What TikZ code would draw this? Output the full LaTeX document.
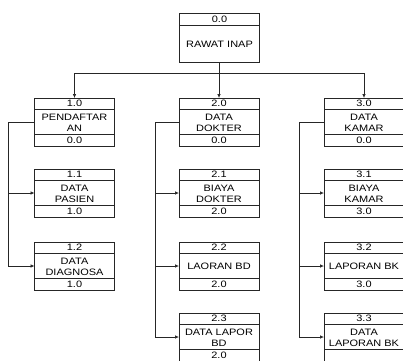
\documentclass[tikz,border=0pt]{standalone}
\usepackage{fontspec}
\setmainfont[FakeStretch=1.18]{Liberation Sans}
\usetikzlibrary{arrows.meta}
\tikzset{
  bx/.style={draw=black!85,line width=0.7pt,minimum width=80pt,minimum height=48pt,inner sep=0pt,outer sep=0pt},
  rowline/.style={draw=black!85,line width=0.7pt},
  txt/.style={font=\fontsize{9.3}{11}\selectfont,align=center,inner sep=0pt},
  conn/.style={draw=black!85,line width=0.7pt},
  arr/.style={conn,-{Latex[length=4pt,width=3.6pt]}}
}
\newcommand\hipobox[6]{%
  \node[bx] (#1) at (#2,#3+24) {};
  \draw[rowline] ([yshift=-11pt]#1.north west) -- ([yshift=-11pt]#1.north east);
  \draw[rowline] ([yshift=12pt]#1.south west) -- ([yshift=12pt]#1.south east);
  \node[txt] (#1-n) at ([yshift=-5.6pt]#1.north) {#4};
  \node[txt] (#1-t) at ([yshift=-0.5pt]#1.center) {#5};
  \node[txt] (#1-f) at ([yshift=6pt]#1.south) {#6};
}
\begin{document}
\begin{tikzpicture}[x=1pt,y=-1pt]
\useasboundingbox (0,0) rectangle (403,360);
\clip (0,0) rectangle (403,360);
\fill[white] (0,0) rectangle (403,360);
% top
\node[bx,minimum height=49pt] (r) at (219.5,37.5) {};
\draw[rowline] ([yshift=-12pt]r.north west) -- ([yshift=-12pt]r.north east);
\node[txt] (r-n) at ([yshift=-6pt]r.north) {0.0};
\node[txt] (r-l) at (219.5,44) {RAWAT INAP};
% column 1
\hipobox{a}{74.5}{98}{1.0}{PENDAFTAR\\AN}{0.0}
\hipobox{a1}{74.5}{169}{1.1}{DATA\\PASIEN}{1.0}
\hipobox{a2}{74.5}{242}{1.2}{DATA\\DIAGNOSA}{1.0}
% column 2
\hipobox{b}{219}{98}{2.0}{DATA\\DOKTER}{0.0}
\hipobox{b1}{219}{169}{2.1}{BIAYA\\DOKTER}{2.0}
\hipobox{b2}{219}{242}{2.2}{LAORAN BD}{2.0}
\hipobox{b3}{219}{313}{2.3}{DATA LAPOR\\BD}{2.0}
% column 3
\hipobox{c}{364}{98}{3.0}{DATA\\KAMAR}{0.0}
\hipobox{c1}{364}{169}{3.1}{BIAYA\\KAMAR}{3.0}
\hipobox{c2}{364}{242}{3.2}{LAPORAN BK}{3.0}
\hipobox{c3}{364}{313}{3.3}{DATA\\LAPORAN BK}{}
% top connectors
\coordinate (bar) at (0,73);
\draw[conn] (r.south) -- (r.south |- bar);
\draw[conn] (a.north |- bar) -- (c.north |- bar);
\draw[arr] (a.north |- bar) -- (a.north);
\draw[arr] (b.north |- bar) -- (b.north);
\draw[arr] (c.north |- bar) -- (c.north);
% trunks
\coordinate (ta) at (8,0);
\coordinate (tb) at (155,0);
\coordinate (tc) at (299,0);
\draw[conn] (a.west) -- (a.west -| ta) -- (a2.west -| ta);
\draw[arr] (a1.west -| ta) -- (a1.west);
\draw[arr] (a2.west -| ta) -- (a2.west);
\draw[conn] (b.west) -- (b.west -| tb) -- (b3.west -| tb);
\draw[arr] (b1.west -| tb) -- (b1.west);
\draw[arr] (b2.west -| tb) -- (b2.west);
\draw[arr] (b3.west -| tb) -- (b3.west);
\draw[conn] (c.west) -- (c.west -| tc) -- (c3.west -| tc);
\draw[arr] (c1.west -| tc) -- (c1.west);
\draw[arr] (c2.west -| tc) -- (c2.west);
\draw[arr] (c3.west -| tc) -- (c3.west);
\end{tikzpicture}
\end{document}
